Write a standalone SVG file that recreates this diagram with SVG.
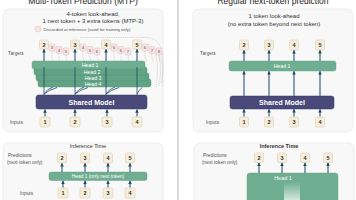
<svg xmlns="http://www.w3.org/2000/svg" width="356" height="200" viewBox="0 0 356 200">
<style>
text{font-family:"Liberation Sans",Arial,sans-serif}
.title{font-size:8.5px;fill:#222;text-anchor:middle}
.sub{font-size:6px;fill:#333;text-anchor:middle}
.lbl{font-size:4.8px;fill:#555}
.panel{fill:#f8f8f8;stroke:#e2e2e2;stroke-width:0.6}
.tok{fill:#f6eedb;stroke:#d8c9a4;stroke-width:0.5}
.tt{font-size:5.5px;font-weight:bold;fill:#333;text-anchor:middle}
.ext{fill:#f9e4e4;stroke:#e0b4b4;stroke-width:0.4}
.et{font-size:4.2px;fill:#555;text-anchor:middle}
.head{fill:#6fae90;stroke:#5e9a7e;stroke-width:0.4}
.head2{fill:#62a385;stroke:#548f74;stroke-width:0.4}
.ht{font-size:5.2px;fill:#fff;text-anchor:middle}
.model{fill:#4a4a7a;stroke:#3a3a66;stroke-width:0.5}
.mt{font-size:7px;font-weight:bold;fill:#fff;text-anchor:middle}
.arr{stroke:#1d4a6b;stroke-width:1;fill:none;marker-end:url(#ah)}
.ln{stroke:#1d4a6b;stroke-width:0.8;fill:none}
.dash{stroke:#9a9a9a;stroke-width:0.4;stroke-dasharray:1 0.8;fill:none}
</style>
<defs>
<marker id="ah" markerUnits="userSpaceOnUse" markerWidth="3.5" markerHeight="3.5" refX="3.2" refY="1.75" orient="auto"><path d="M0,0 L3.5,1.75 L0,3.5 z" fill="#1d4a6b"/></marker>
<linearGradient id="fade" x1="0" y1="0" x2="0" y2="1"><stop offset="0" stop-color="#fff" stop-opacity="0"/><stop offset="1" stop-color="#fff" stop-opacity="0.7"/></linearGradient>
</defs>
<rect width="356" height="200" fill="#fff"/>
<line x1="178" y1="0" x2="178" y2="200" stroke="#999" stroke-width="0.7"/>
<text class="title" x="83" y="4">Multi-Token Prediction (MTP)</text>
<text class="title" x="273" y="4">Regular next-token prediction</text>

<g id="panel-mtp">
<rect class="panel" x="3" y="9" width="160" height="123" rx="6"/>
<text class="sub" x="93" y="16">4-token look-ahead,</text>
<text class="sub" x="93" y="23">1 next token + 3 extra tokens (MTP-3)</text>
<circle cx="38" cy="29" r="3" class="ext"/>
<text x="43.5" y="30.5" style="font-size:4.3px;fill:#555">Discarded at inference (used for training only)</text>
<text class="lbl" x="8" y="55">Targets</text>
<text class="lbl" x="10" y="124">Inputs</text>
</g>

<g id="connectors-mtp">
<path class="dash" d="M80,37.5 L146,37.5 Q163,38 163,62 L163,86"/>
<path class="dash" d="M148,44 Q161,50 156,88"/>
<path class="dash" d="M153,47 Q164,56 159,86"/>
<path class="dash" d="M157,51 Q166,63 161,83"/>
<path class="dash" d="M52,51 Q51,57 54,62"/><path class="dash" d="M59,53.5 Q58,59 61,62"/><path class="dash" d="M66,55 Q66,59 68,62"/>
<path class="dash" d="M83,51 Q82,57 85,62"/><path class="dash" d="M90,53.5 Q89,59 92,62"/><path class="dash" d="M97,55 Q97,59 99,62"/>
<path class="dash" d="M114,51 Q113,57 116,62"/><path class="dash" d="M121,53.5 Q120,59 123,62"/><path class="dash" d="M128,55 Q128,59 130,62"/>
<path class="dash" d="M145,51 Q144,57 147,62"/><path class="dash" d="M152,53.5 Q151,59 154,62"/><path class="dash" d="M159,55 Q159,59 160,62"/>
</g>

<g id="targets-mtp">
<rect class="tok" x="39.5" y="40" width="9" height="9" rx="1.5"/><text class="tt" x="44" y="46.6">2</text>
<rect class="ext" x="49" y="44" width="6" height="7" rx="1.2"/><text class="et" x="52" y="49">3</text>
<rect class="ext" x="56" y="46.5" width="6" height="7" rx="1.2"/><text class="et" x="59" y="51.5">4</text>
<rect class="ext" x="63" y="48" width="6" height="7" rx="1.2"/><text class="et" x="66" y="53">5</text>
<rect class="tok" x="70.5" y="40" width="9" height="9" rx="1.5"/><text class="tt" x="75" y="46.6">3</text>
<rect class="ext" x="80" y="44" width="6" height="7" rx="1.2"/><text class="et" x="83" y="49">4</text>
<rect class="ext" x="87" y="46.5" width="6" height="7" rx="1.2"/><text class="et" x="90" y="51.5">5</text>
<rect class="ext" x="94" y="48" width="6" height="7" rx="1.2"/><text class="et" x="97" y="53">6</text>
<rect class="tok" x="101.5" y="40" width="9" height="9" rx="1.5"/><text class="tt" x="106" y="46.6">4</text>
<rect class="ext" x="111" y="44" width="6" height="7" rx="1.2"/><text class="et" x="114" y="49">5</text>
<rect class="ext" x="118" y="46.5" width="6" height="7" rx="1.2"/><text class="et" x="121" y="51.5">6</text>
<rect class="ext" x="125" y="48" width="6" height="7" rx="1.2"/><text class="et" x="128" y="53">7</text>
<rect class="tok" x="132.5" y="40" width="9" height="9" rx="1.5"/><text class="tt" x="137" y="46.6">5</text>
<rect class="ext" x="142" y="44" width="6" height="7" rx="1.2"/><text class="et" x="145" y="49">6</text>
<rect class="ext" x="149" y="46.5" width="6" height="7" rx="1.2"/><text class="et" x="152" y="51.5">7</text>
<rect class="ext" x="156" y="48" width="6" height="7" rx="1.2"/><text class="et" x="159" y="53">8</text>
</g>

<g id="heads-mtp">
<rect class="head2" x="38" y="79" width="113" height="8" rx="2"/><text class="ht" x="93" y="85.6">Head 4</text>
<rect class="head2" x="36" y="73" width="113" height="8" rx="2"/><text class="ht" x="93" y="79.6">Head 3</text>
<rect class="head2" x="34" y="67" width="113" height="8" rx="2"/><text class="ht" x="92" y="73.6">Head 2</text>
<rect class="head" x="32" y="61" width="113" height="8" rx="2"/><text class="ht" x="90" y="66.8">Head 1</text>
</g>

<g id="connectors-mtp-2">
<line class="arr" x1="44" y1="61" x2="44" y2="49.3"/>
<line class="arr" x1="75" y1="61" x2="75" y2="49.3"/>
<line class="arr" x1="106" y1="61" x2="106" y2="49.3"/>
<line class="arr" x1="137" y1="61" x2="137" y2="49.3"/>
<line class="ln" x1="44" y1="95" x2="44" y2="67"/><path class="ln" d="M44,94 Q47,89 53,87"/><path class="ln" d="M44,94 Q49,90 57,87.5"/>
<line class="ln" x1="75" y1="95" x2="75" y2="67"/><path class="ln" d="M75,94 Q78,89 84,87"/><path class="ln" d="M75,94 Q80,90 88,87.5"/>
<line class="ln" x1="106" y1="95" x2="106" y2="67"/><path class="ln" d="M106,94 Q109,89 115,87"/><path class="ln" d="M106,94 Q111,90 119,87.5"/>
<line class="ln" x1="137" y1="95" x2="137" y2="67"/><path class="ln" d="M137,94 Q139,90 142,87.5"/>
<line class="arr" x1="45" y1="116.5" x2="45" y2="109.5"/>
<line class="arr" x1="75" y1="116.5" x2="75" y2="109.5"/>
<line class="arr" x1="107" y1="116.5" x2="107" y2="109.5"/>
<line class="arr" x1="137" y1="116.5" x2="137" y2="109.5"/>
</g>

<g id="model-mtp">
<rect class="model" x="36" y="95" width="111" height="14" rx="2.5"/>
<text class="mt" x="91.5" y="104.5">Shared Model</text>
</g>

<g id="inputs-mtp">
<rect class="tok" x="40" y="117" width="10" height="10" rx="1.5"/><text class="tt" x="45" y="124">1</text>
<rect class="tok" x="70" y="117" width="10" height="10" rx="1.5"/><text class="tt" x="75" y="124">2</text>
<rect class="tok" x="102" y="117" width="10" height="10" rx="1.5"/><text class="tt" x="107" y="124">3</text>
<rect class="tok" x="132" y="117" width="10" height="10" rx="1.5"/><text class="tt" x="137" y="124">4</text>
</g>

<g id="panel-regular">
<rect class="panel" x="193" y="9" width="160" height="123" rx="6"/>
<text class="sub" x="274" y="18">1 token look-ahead</text>
<text class="sub" x="274" y="26">(no extra token beyond next token)</text>
<text class="lbl" x="200" y="55">Targets</text>
<text class="lbl" x="206" y="124">Inputs</text>
</g>
<g id="targets-regular">
<rect class="tok" x="239.5" y="40" width="9" height="10" rx="1.5"/><text class="tt" x="244" y="47">2</text>
<rect class="tok" x="264.5" y="40" width="9" height="10" rx="1.5"/><text class="tt" x="269" y="47">3</text>
<rect class="tok" x="289.5" y="40" width="9" height="10" rx="1.5"/><text class="tt" x="294" y="47">4</text>
<rect class="tok" x="315.5" y="40" width="9" height="10" rx="1.5"/><text class="tt" x="320" y="47">5</text>
</g>
<g id="head-regular">
<rect class="head" x="229" y="61" width="107" height="10" rx="2.5"/>
<text class="ht" x="282" y="67.8">Head 1</text>
</g>
<g id="model-regular">
<rect class="model" x="230" y="96" width="104" height="13" rx="2.5"/>
<text class="mt" x="282" y="104.8">Shared Model</text>
</g>
<g id="inputs-regular">
<rect class="tok" x="239.5" y="117" width="9" height="10" rx="1.5"/><text class="tt" x="244" y="124">1</text>
<rect class="tok" x="264.5" y="117" width="9" height="10" rx="1.5"/><text class="tt" x="269" y="124">2</text>
<rect class="tok" x="289.5" y="117" width="9" height="10" rx="1.5"/><text class="tt" x="294" y="124">3</text>
<rect class="tok" x="315.5" y="117" width="9" height="10" rx="1.5"/><text class="tt" x="320" y="124">4</text>
</g>
<g id="connectors-regular">
<line class="arr" x1="244" y1="61" x2="244" y2="50.3"/>
<line class="arr" x1="269" y1="61" x2="269" y2="50.3"/>
<line class="arr" x1="294" y1="61" x2="294" y2="50.3"/>
<line class="arr" x1="320" y1="61" x2="320" y2="50.3"/>
<line class="arr" x1="244" y1="96" x2="244" y2="71.3"/>
<line class="arr" x1="269" y1="96" x2="269" y2="71.3"/>
<line class="arr" x1="294" y1="96" x2="294" y2="71.3"/>
<line class="arr" x1="320" y1="96" x2="320" y2="71.3"/>
<line class="arr" x1="244" y1="116.5" x2="244" y2="109.3"/>
<line class="arr" x1="269" y1="116.5" x2="269" y2="109.3"/>
<line class="arr" x1="294" y1="116.5" x2="294" y2="109.3"/>
<line class="arr" x1="320" y1="116.5" x2="320" y2="109.3"/>
</g>

<g id="panel-inf-mtp">
<rect class="panel" x="3" y="143" width="160" height="70" rx="6"/>
<text x="88" y="147.5" style="font-size:5.5px;fill:#333;text-anchor:middle">Inference Time</text>
<text class="lbl" x="8" y="157">Predictions</text>
<text class="lbl" x="7" y="164">(next token only)</text>
<text class="lbl" x="20" y="195">Inputs</text>
</g>
<g id="preds-inf-mtp">
<rect class="tok" x="57.5" y="153" width="9" height="10" rx="1.5"/><text class="tt" x="62" y="160">2</text>
<rect class="tok" x="80.5" y="153" width="9" height="10" rx="1.5"/><text class="tt" x="85" y="160">3</text>
<rect class="tok" x="103.5" y="153" width="9" height="10" rx="1.5"/><text class="tt" x="108" y="160">4</text>
<rect class="tok" x="125.5" y="153" width="9" height="10" rx="1.5"/><text class="tt" x="130" y="160">5</text>
</g>
<g id="head-inf-mtp">
<rect class="head" x="49" y="172" width="98" height="8.5" rx="2"/>
<text class="ht" x="98" y="178" style="font-size:4.8px">Head 1 (only next token)</text>
</g>
<g id="inputs-inf-mtp">
<rect class="tok" x="58" y="188" width="10" height="10" rx="1.5"/><text class="tt" x="63" y="195">1</text>
<rect class="tok" x="80" y="188" width="10" height="10" rx="1.5"/><text class="tt" x="85" y="195">2</text>
<rect class="tok" x="103" y="188" width="10" height="10" rx="1.5"/><text class="tt" x="108" y="195">3</text>
<rect class="tok" x="125" y="188" width="10" height="10" rx="1.5"/><text class="tt" x="130" y="195">4</text>
</g>
<g id="connectors-inf-mtp">
<line class="arr" x1="62" y1="172" x2="62" y2="163.3"/>
<line class="arr" x1="85" y1="172" x2="85" y2="163.3"/>
<line class="arr" x1="108" y1="172" x2="108" y2="163.3"/>
<line class="arr" x1="130" y1="172" x2="130" y2="163.3"/>
<line class="arr" x1="63" y1="187.5" x2="63" y2="180.8"/>
<line class="arr" x1="85" y1="187.5" x2="85" y2="180.8"/>
<line class="arr" x1="108" y1="187.5" x2="108" y2="180.8"/>
<line class="arr" x1="130" y1="187.5" x2="130" y2="180.8"/>
</g>

<g id="panel-inf-regular">
<rect class="panel" x="194" y="143" width="160" height="70" rx="6"/>
<text x="279" y="148" style="font-size:5.5px;font-weight:bold;fill:#333;text-anchor:middle">Inference Time</text>
<text class="lbl" x="203" y="157">Predictions</text>
<text class="lbl" x="202" y="164">(next token only)</text>
</g>
<g id="preds-inf-regular">
<rect class="tok" x="254.5" y="153" width="9" height="9.5" rx="1.5"/><text class="tt" x="259" y="159.8">2</text>
<rect class="tok" x="277.5" y="153" width="9" height="9.5" rx="1.5"/><text class="tt" x="282" y="159.8">3</text>
<rect class="tok" x="300.5" y="153" width="9" height="9.5" rx="1.5"/><text class="tt" x="305" y="159.8">4</text>
<rect class="tok" x="323.5" y="153" width="9" height="9.5" rx="1.5"/><text class="tt" x="328" y="159.8">5</text>
</g>
<g id="head-inf-regular">
<rect class="head" x="247" y="173" width="91" height="40" rx="3"/>
<rect x="284" y="182" width="16" height="18" fill="url(#fade)"/>
<text class="ht" x="283" y="180" style="font-size:5.5px">Head 1</text>
</g>
<g id="connectors-inf-regular">
<line class="arr" x1="259" y1="173" x2="259" y2="162.8"/>
<line class="arr" x1="282" y1="173" x2="282" y2="162.8"/>
<line class="arr" x1="305" y1="173" x2="305" y2="162.8"/>
<line class="arr" x1="328" y1="173" x2="328" y2="162.8"/>
</g>
</svg>
